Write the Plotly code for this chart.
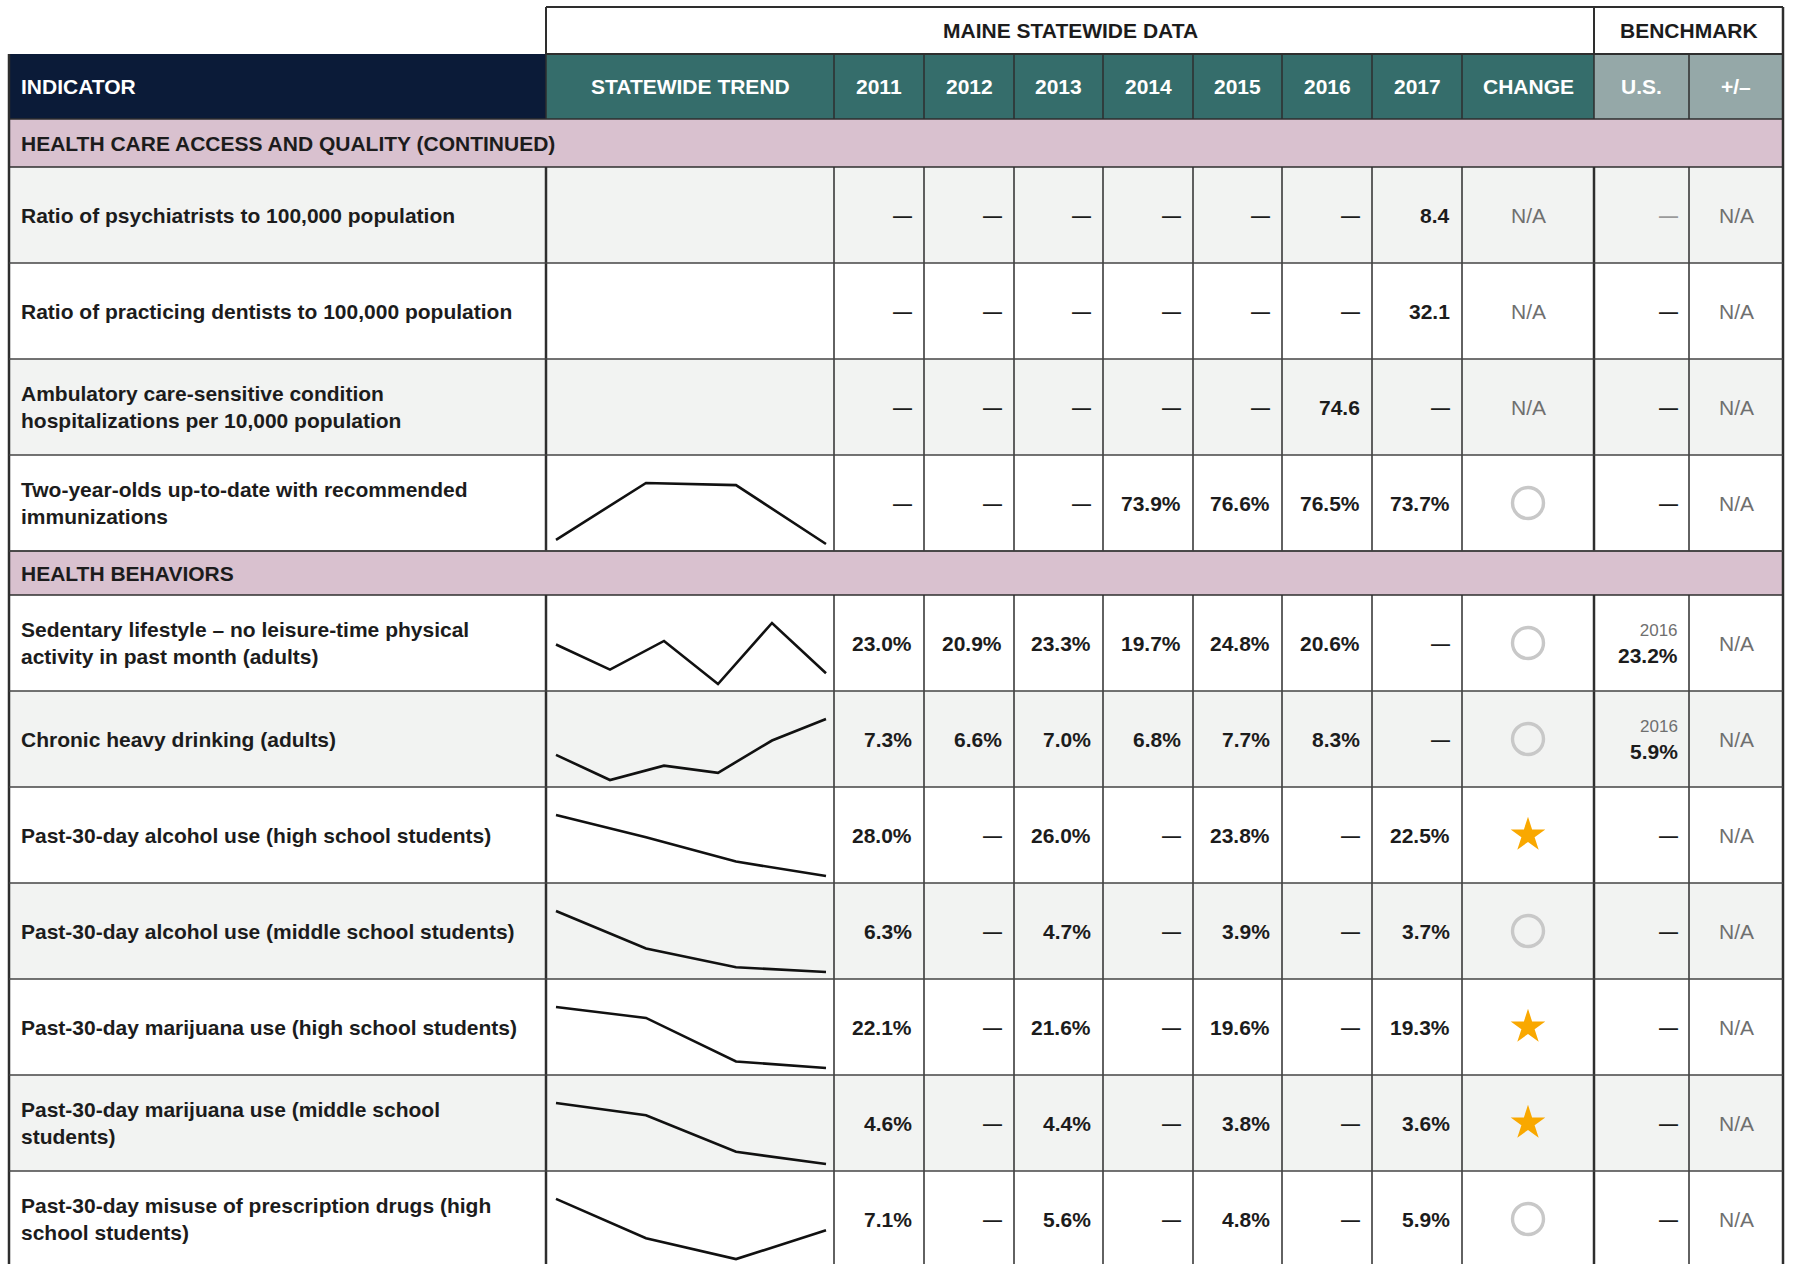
import plotly.graph_objects as go

W, H = 1794, 1264

# ---------------- data ----------------
years = ["2011", "2012", "2013", "2014", "2015", "2016", "2017"]
section_titles = ["HEALTH CARE ACCESS AND QUALITY (CONTINUED)", "HEALTH BEHAVIORS"]
section_sizes = [4, 7]
indicators = [
    "Ratio of psychiatrists to 100,000 population",
    "Ratio of practicing dentists to 100,000 population",
    "Ambulatory care-sensitive condition<br>hospitalizations per 10,000 population",
    "Two-year-olds up-to-date with recommended<br>immunizations",
    "Sedentary lifestyle – no leisure-time physical<br>activity in past month (adults)",
    "Chronic heavy drinking (adults)",
    "Past-30-day alcohol use (high school students)",
    "Past-30-day alcohol use (middle school students)",
    "Past-30-day marijuana use (high school students)",
    "Past-30-day marijuana use (middle school<br>students)",
    "Past-30-day misuse of prescription drugs (high<br>school students)",
]
units = ["", "", "", "%", "%", "%", "%", "%", "%", "%", "%"]
v2011 = [None, None, None, None, 23.0, 7.3, 28.0, 6.3, 22.1, 4.6, 7.1]
v2012 = [None, None, None, None, 20.9, 6.6, None, None, None, None, None]
v2013 = [None, None, None, None, 23.3, 7.0, 26.0, 4.7, 21.6, 4.4, 5.6]
v2014 = [None, None, None, 73.9, 19.7, 6.8, None, None, None, None, None]
v2015 = [None, None, None, 76.6, 24.8, 7.7, 23.8, 3.9, 19.6, 3.8, 4.8]
v2016 = [None, None, 74.6, 76.5, 20.6, 8.3, None, None, None, None, None]
v2017 = [8.4, 32.1, None, 73.7, None, None, 22.5, 3.7, 19.3, 3.6, 5.9]
change = ["N/A", "N/A", "N/A", "none", "none", "none", "better", "none", "better", "better", "none"]
us_year = [None, None, None, None, "2016", "2016", None, None, None, None, None]
us_value = [None, None, None, None, 23.2, 5.9, None, None, None, None, None]
plus_minus = ["N/A"] * 11

year_values = [v2011, v2012, v2013, v2014, v2015, v2016, v2017]

# ---------------- layout geometry / styles ----------------
FONT = "Liberation Sans, Arial, Helvetica, sans-serif"
DARK = "#1c1c1c"
LINE = "#2e2e2e"
NAVY = "#0b1b38"
TEAL = "#356d6b"
BENCH = "#95a8a8"
PINK = "#d9c1cf"
SHADE = "#f2f3f2"
NA_COL = "#6f6f6f"
STAR = "#f9a800"
RING = "#c8c8c8"

col_edges = [9, 546, 834, 924, 1014, 1103, 1193, 1282, 1372, 1462, 1594, 1689, 1783]
TOP_Y0, TOP_Y1 = 7, 54
HDR_Y0, HDR_Y1 = 54, 119
band_heights = [48, 44]
ROW_H = 96
shade_first = [True, False]
FS = 21

shapes = []
annotations = []


def rect(x0, y0, x1, y1, fill, line_color=None, lw=0):
    shapes.append(dict(type="rect", xref="x", yref="y", x0=x0, y0=y0, x1=x1, y1=y1,
                       fillcolor=fill, line=dict(width=lw, color=line_color or fill),
                       layer="below"))


def hline(y, x0, x1, lw=1.5, color=LINE):
    shapes.append(dict(type="line", xref="x", yref="y", x0=x0, x1=x1, y0=y, y1=y,
                       line=dict(width=lw, color=color), layer="above"))


def vline(x, y0, y1, lw=1.5, color=LINE):
    shapes.append(dict(type="line", xref="x", yref="y", x0=x, x1=x, y0=y0, y1=y1,
                       line=dict(width=lw, color=color), layer="above"))


def text(x, y, s, size=FS, color=DARK, weight=700, xanchor="center", align="center"):
    annotations.append(dict(x=x, y=y, xref="x", yref="y", text=s, showarrow=False,
                            xanchor=xanchor, yanchor="middle", align=align,
                            font=dict(family=FONT, size=size, color=color, weight=weight)))


L, R = col_edges[0], col_edges[-1]
TREND_L, TREND_R = col_edges[1], col_edges[2]
BENCH_X = col_edges[10]
CHANGE_C = (col_edges[9] + col_edges[10]) / 2

# top header box
rect(TREND_L, TOP_Y0, R, TOP_Y1, "white")
text((TREND_L + BENCH_X) / 2, (TOP_Y0 + TOP_Y1) / 2, "MAINE STATEWIDE DATA")
text((BENCH_X + R) / 2, (TOP_Y0 + TOP_Y1) / 2, "BENCHMARK")

# header row
rect(L, HDR_Y0, TREND_L, HDR_Y1, NAVY)
rect(TREND_L, HDR_Y0, BENCH_X, HDR_Y1, TEAL)
rect(BENCH_X, HDR_Y0, R, HDR_Y1, BENCH)
hc = (HDR_Y0 + HDR_Y1) / 2
text(L + 10, hc, "INDICATOR", color="white", xanchor="left")
header_labels = ["STATEWIDE TREND"] + years + ["CHANGE", "U.S.", "+/–"]
for i, lab in enumerate(header_labels):
    cx = (col_edges[i + 1] + col_edges[i + 2]) / 2
    text(cx, hc, lab, color="white")

# body
y = HDR_Y1
row_pos = []
band_pos = []
for s, title in enumerate(section_titles):
    bh = band_heights[s]
    band_pos.append((y, y + bh))
    rect(L, y, R, y + bh, PINK)
    text(L + 10, y + bh / 2, title, xanchor="left")
    y += bh
    for k in range(section_sizes[s]):
        shaded = (k % 2 == 0) == shade_first[s]
        rect(L, y, R, y + ROW_H, SHADE if shaded else "white")
        row_pos.append((y, y + ROW_H))
        y += ROW_H

for i, (y0, y1) in enumerate(row_pos):
    cy = (y0 + y1) / 2
    text(L + 10, cy, indicators[i], xanchor="left", align="left")
    for j, yv in enumerate(year_values):
        xr = col_edges[j + 3] - 10
        v = yv[i]
        if v is None:
            text(xr, cy, "—", size=19, xanchor="right")
        else:
            text(xr, cy, f"{v:.1f}{units[i]}", xanchor="right")
    if change[i] == "N/A":
        text(CHANGE_C, cy, "N/A", color=NA_COL, weight=400)
    us_r = col_edges[11] - 9
    if us_value[i] is None:
        text(us_r, cy, "—", size=19, xanchor="right", color="#9a9a9a" if i == 0 else DARK)
    else:
        text(us_r, cy + 1,
             f"<span style='font-size:17px;font-weight:400;color:{NA_COL}'>{us_year[i]}</span><br>"
             f"{us_value[i]:.1f}{units[i]}",
             xanchor="right", align="right")
    text((col_edges[11] + col_edges[12]) / 2, cy, plus_minus[i], color=NA_COL, weight=400)

# grid lines
bottom = y
vline(TREND_L, TOP_Y0, TOP_Y1, 2)
vline(BENCH_X, TOP_Y0, TOP_Y1, 2)
vline(R, TOP_Y0, TOP_Y1, 2.5)
hline(TOP_Y0, TREND_L, R, 2)
hline(TOP_Y1, TREND_L, R, 2)
for x in col_edges[2:-1]:
    vline(x, HDR_Y0, HDR_Y1, 1.5)
vline(TREND_L, HDR_Y0, HDR_Y1, 1.5)
for (y0, y1) in row_pos:
    for x in col_edges[1:-1]:
        vline(x, y0, y1, 2.5 if x in (TREND_L, BENCH_X) else 1.5)
vline(L, HDR_Y0, bottom, 2.5)
vline(R, HDR_Y0, bottom, 2.5)
for (y0, y1) in band_pos:
    hline(y0, L, R, 1.5)
    hline(y1, L, R, 1.5)
for (y0, y1) in row_pos:
    hline(y1, L, R, 1.5, "#444444")

fig = go.Figure()

# change markers
star_y = [(row_pos[i][0] + row_pos[i][1]) / 2 for i in range(len(change)) if change[i] == "better"]
ring_y = [(row_pos[i][0] + row_pos[i][1]) / 2 for i in range(len(change)) if change[i] == "none"]
fig.add_trace(go.Scatter(x=[CHANGE_C] * len(star_y), y=star_y, mode="markers",
                         marker=dict(symbol="star", size=26, color=STAR, line=dict(width=0)),
                         hoverinfo="skip", showlegend=False, xaxis="x", yaxis="y"))
fig.add_trace(go.Scatter(x=[CHANGE_C] * len(ring_y), y=ring_y, mode="markers",
                         marker=dict(symbol="circle-open", size=31, color=RING, line=dict(width=3.4, color=RING)),
                         hoverinfo="skip", showlegend=False, xaxis="x", yaxis="y"))

layout_axes = dict(
    xaxis=dict(domain=[0, 1], range=[0, W], visible=False, fixedrange=True),
    yaxis=dict(domain=[0, 1], range=[H, 0], visible=False, fixedrange=True),
)

# sparklines, each on its own small axes pair
SP_X0, SP_X1 = 556, 826
SP_TOP, SP_BOT = 28, 7
PAD = 5
ax_n = 2
for i, (y0, y1) in enumerate(row_pos):
    pts = [yv[i] for yv in year_values if yv[i] is not None]
    if len(pts) < 2:
        continue
    n = len(pts)
    yt, yb = y0 + SP_TOP, y1 - SP_BOT
    vmin, vmax = min(pts), max(pts)
    padx = PAD * (n - 1) / (SP_X1 - SP_X0)
    pady = PAD * (vmax - vmin) / (yb - yt)
    xa, ya = f"xaxis{ax_n}", f"yaxis{ax_n}"
    layout_axes[xa] = dict(domain=[(SP_X0 - PAD) / W, (SP_X1 + PAD) / W],
                           range=[-padx, n - 1 + padx], visible=False, fixedrange=True,
                           anchor=f"y{ax_n}")
    layout_axes[ya] = dict(domain=[max(0, 1 - (yb + PAD) / H), 1 - (yt - PAD) / H],
                           range=[vmin - pady, vmax + pady], visible=False, fixedrange=True,
                           anchor=f"x{ax_n}")
    fig.add_trace(go.Scatter(x=list(range(n)), y=pts, mode="lines",
                             line=dict(color="#111111", width=2.6),
                             hoverinfo="skip", showlegend=False,
                             xaxis=f"x{ax_n}", yaxis=f"y{ax_n}"))
    ax_n += 1

fig.update_layout(
    width=W, height=H,
    margin=dict(l=0, r=0, t=0, b=0),
    paper_bgcolor="white",
    plot_bgcolor="rgba(0,0,0,0)",
    shapes=shapes,
    annotations=annotations,
    showlegend=False,
    **layout_axes,
)

fig.write_html("out.html", config={"displayModeBar": False, "staticPlot": True},
               post_script="document.body.style.margin='0';document.documentElement.style.overflow='hidden';")
